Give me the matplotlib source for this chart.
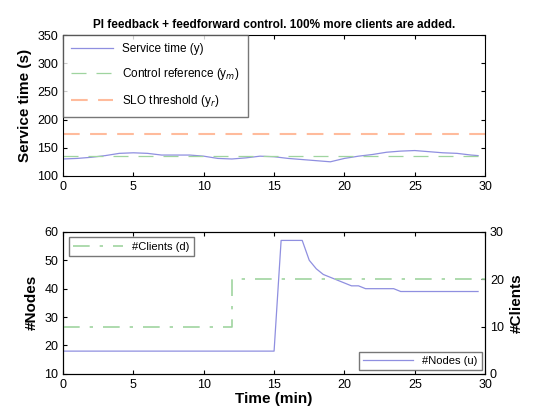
import matplotlib
matplotlib.use("Agg")
import matplotlib.pyplot as plt

plt.rcParams["font.family"] = ["Liberation Sans", "DejaVu Sans"]
plt.rcParams["xtick.direction"] = "in"
plt.rcParams["ytick.direction"] = "in"

# Top panel: service time (s) over time (min)
time_s = [0, 1, 2, 3, 4, 5, 6, 7, 8, 9, 10, 11, 12, 13, 14, 15, 16, 17, 18,
          19, 20, 21, 22, 23, 24, 25, 26, 27, 28, 29, 29.5]
service_time = [130, 131, 133, 136, 140, 141, 140, 137, 137, 137, 135, 131,
                130, 132, 135, 134, 131, 129, 127, 125, 131, 135, 138, 142,
                144, 145, 143, 141, 140, 137, 136]
control_ref = 135
slo_threshold = 175

# Bottom panel: nodes and clients
time_n = [0, 15, 15.5, 17, 17.5, 18, 18.5, 19, 19.5, 20, 20.5, 21, 21.5,
          23.5, 24, 29.5]
nodes = [18, 18, 57, 57, 50, 47, 45, 44, 43, 42, 41, 41, 40, 40, 39, 39]
time_c = [0, 12, 12, 30]
clients = [10, 10, 20, 20]

c_blue = "#8f8fe0"
c_green = "#9fd49f"
c_orange = "#ffbb9c"

fig = plt.figure(figsize=(5.39, 4.09), dpi=100)
ax1 = fig.add_axes([0.117, 0.570, 0.783, 0.344])
ax2 = fig.add_axes([0.117, 0.086, 0.783, 0.347])

ax1.plot(time_s, service_time, color=c_blue, lw=0.9, label="Service time (y)")
ax1.plot([0, 30], [control_ref] * 2, color=c_green, lw=0.9, ls=(0, (12, 8)),
         label="Control reference (y$_m$)")
ax1.plot([0, 30], [slo_threshold] * 2, color=c_orange, lw=1.5, ls=(0, (8, 5)),
         label="SLO threshold (y$_r$)")
ax1.set_xlim(0, 30)
ax1.set_ylim(100, 350)
ax1.set_xticks(range(0, 31, 5))
ax1.set_yticks(range(100, 351, 50))
ax1.set_ylabel("Service time (s)", fontsize=11, fontweight="bold")
ax1.set_title("PI feedback + feedforward control. 100% more clients are added.",
              fontsize=8.5, fontweight="bold", pad=5)
ax1.legend(loc="upper left", fontsize=8.5, frameon=True, fancybox=False,
           edgecolor="#555555", borderaxespad=0, handlelength=3.5,
           labelspacing=0.9, borderpad=0.7)

ax2.plot(time_n, nodes, color=c_blue, lw=0.9, label="#Nodes (u)")
ax2.set_xlim(0, 30)
ax2.set_ylim(10, 60)
ax2.set_xticks(range(0, 31, 5))
ax2.set_yticks(range(10, 61, 10))
ax2.set_ylabel("#Nodes", fontsize=11, fontweight="bold")
ax2.set_xlabel("Time (min)", fontsize=11, fontweight="bold", labelpad=1)
ax2.legend(loc="lower right", fontsize=8, frameon=True, fancybox=False,
           edgecolor="#555555", borderaxespad=0.3, handlelength=4.5)

ax3 = ax2.twinx()
ax3.plot(time_c, clients, color=c_green, lw=1.2, ls=(0, (10, 6, 2, 6)),
         label="#Clients (d)")
ax3.set_ylim(0, 30)
ax3.set_yticks(range(0, 31, 10))
ax3.set_ylabel("#Clients", fontsize=11, fontweight="bold")
ax3.legend(loc="upper left", fontsize=8, frameon=True, fancybox=False,
           edgecolor="#555555", borderaxespad=0.5, handlelength=4.5)

for ax in (ax1, ax2, ax3):
    ax.tick_params(labelsize=9, length=3)
for ax in (ax1, ax2):
    ax.tick_params(top=True)
ax1.tick_params(right=True)

fig.savefig("out.png", dpi=100)
